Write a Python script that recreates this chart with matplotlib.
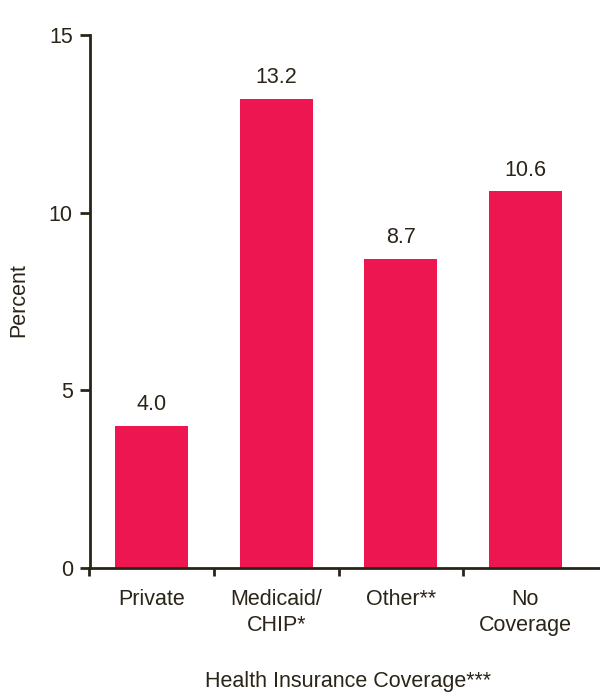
import numpy as np
import matplotlib.pyplot as plt

plt.rcParams['font.family'] = ['Liberation Sans', 'DejaVu Sans']

# Data
categories = ['Private', 'Medicaid/\nCHIP*', 'Other**', 'No\nCoverage']
percent = [4.0, 13.2, 8.7, 10.6]

bar_color = '#ED1651'
ink = '#2B2418'
fs = 15.5

fig = plt.figure(figsize=(6, 6.92), dpi=100)
ax = fig.add_axes([89.5/600, 124/692, (600-89.5)/600, (568-35)/692])

x = np.arange(len(categories))
bars = ax.bar(x, percent, width=0.585, color=bar_color, zorder=2)

for xi, v in zip(x, percent):
    ax.text(xi, v + 0.3, f'{v:.1f}', ha='center', va='bottom', fontsize=fs, color=ink)

ax.set_xlim(-0.5, 3.6)
ax.set_ylim(0, 15)
ax.set_yticks([0, 5, 10, 15])
ax.set_xticks(x)
ax.set_xticklabels(categories, fontsize=fs, color=ink, linespacing=1.3)
ax.set_xticks([-0.5, 0.5, 1.5, 2.5], minor=True)
ax.tick_params(axis='x', which='major', length=0, pad=15)
ax.tick_params(axis='x', which='minor', length=6, width=2, color=ink, direction='out')
ax.tick_params(axis='y', length=7, width=2, color=ink, labelsize=fs, labelcolor=ink, pad=5)

for s in ['top', 'right']:
    ax.spines[s].set_visible(False)
for s in ['left', 'bottom']:
    ax.spines[s].set_linewidth(2)
    ax.spines[s].set_color(ink)

fig.text(19/600, 1 - 300/692, 'Percent', rotation=90, ha='center', va='center',
         fontsize=fs, color=ink)
fig.text(348/600, 1 - 681/692, 'Health Insurance Coverage***', ha='center', va='center',
         fontsize=fs, color=ink)

plt.savefig('out.png', dpi=100)
